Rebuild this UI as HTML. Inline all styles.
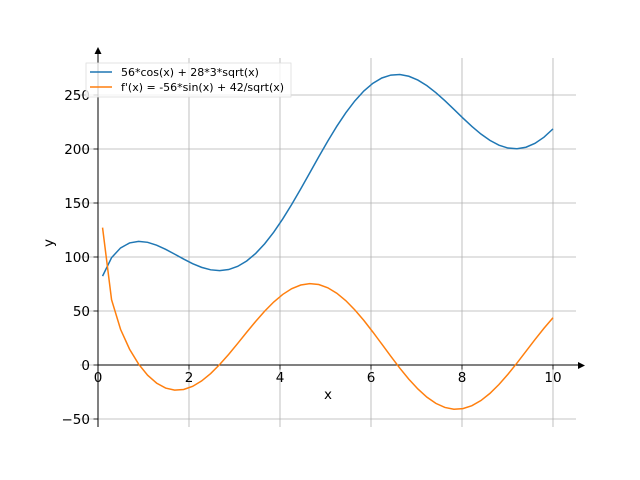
<!DOCTYPE html>
<html><head><meta charset="utf-8"><style>
html,body{margin:0;padding:0;background:#fff;}
svg{display:block;font-family:"DejaVu Sans","Liberation Sans",sans-serif;}
</style></head><body>
<svg id="s" width="640" height="480" xmlns="http://www.w3.org/2000/svg">
<rect width="640" height="480" fill="#fff"/>
<g id="grid" stroke="#b0b0b0" stroke-width="0.8"></g>
<g id="ticks" stroke="#000" stroke-width="0.8"></g>
<g id="labels" font-size="13.5" fill="#000"></g>
<line x1="98" y1="365" x2="580" y2="365" stroke="#000" stroke-width="1"/>
<line x1="98" y1="427" x2="98" y2="54" stroke="#000" stroke-width="1"/>
<polygon points="585,365.5 578,362 578,369" fill="#000"/>
<polygon points="98,47 94.5,54 101.5,54" fill="#000"/>
<path id="p1" fill="none" stroke="#1f77b4" stroke-width="1.5"/>
<path id="p2" fill="none" stroke="#ff7f0e" stroke-width="1.5"/>
<text x="328" y="399" font-size="13.5" text-anchor="middle">x</text>
<text x="53" y="243" font-size="13.5" text-anchor="middle" transform="rotate(-90 53 243)">y</text>
<rect x="86" y="63" width="205" height="34" fill="#fff" fill-opacity="0.8" stroke="#ddd" stroke-width="0.8"/>
<line x1="90" y1="72" x2="112" y2="72" stroke="#1f77b4" stroke-width="1.5"/>
<line x1="90" y1="87" x2="112" y2="87" stroke="#ff7f0e" stroke-width="1.5"/>
<text x="121" y="76" font-size="11">56*cos(x) + 28*3*sqrt(x)</text>
<text x="121" y="91" font-size="11">f'(x) = -56*sin(x) + 42/sqrt(x)</text>
</svg>
<script>
var X=function(x){return 98+x*45.5},Y=function(y){return 365-y*1.08};
var g=document.getElementById('grid'),t=document.getElementById('ticks'),l=document.getElementById('labels'),ns='http://www.w3.org/2000/svg';
function el(p,n,a,txt){var e=document.createElementNS(ns,n);for(var k in a)e.setAttribute(k,a[k]);if(txt!==undefined)e.textContent=txt;p.appendChild(e);}
for(var i=0;i<=10;i+=2){var x=X(i);el(g,'line',{x1:x,y1:58,x2:x,y2:427});el(t,'line',{x1:x,y1:365,x2:x,y2:369.5});el(l,'text',{x:x,y:382,'text-anchor':'middle'},String(i));}
for(var v=-50;v<=250;v+=50){var y=Y(v);el(g,'line',{x1:80,y1:y,x2:576,y2:y});el(t,'line',{x1:93.5,y1:y,x2:98,y2:y});el(l,'text',{x:90,y:y+5,'text-anchor':'end'},(v<0?'\u2212':'')+Math.abs(v));}
var d1='',d2='';
for(var k=0;k<=50;k++){var x=0.1+k*(9.9/50);var f=56*Math.cos(x)+84*Math.sqrt(x),fp=-56*Math.sin(x)+42/Math.sqrt(x);
d1+=(k?'L':'M')+X(x).toFixed(2)+' '+Y(f).toFixed(2);d2+=(k?'L':'M')+X(x).toFixed(2)+' '+Y(fp).toFixed(2);}
document.getElementById('p1').setAttribute('d',d1);document.getElementById('p2').setAttribute('d',d2);
</script>
</body></html>
